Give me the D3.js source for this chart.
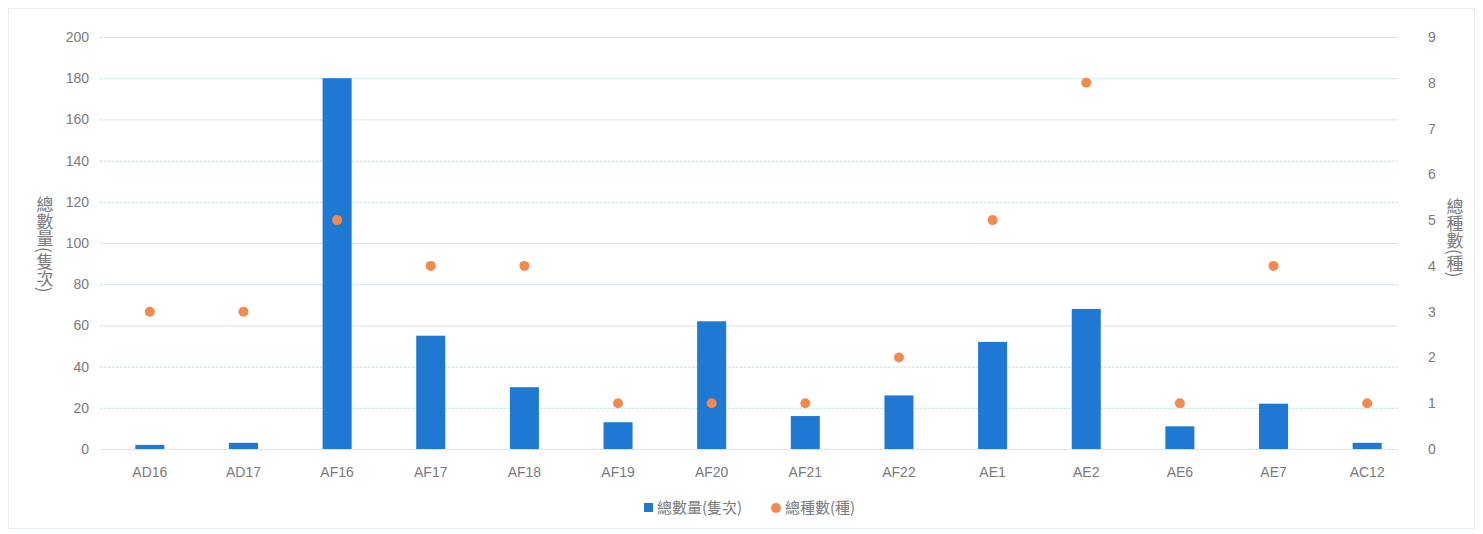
<!DOCTYPE html>
<html>
<head>
<meta charset="utf-8">
<script src="https://cdn.jsdelivr.net/npm/d3@7"></script>
<style>
  body { margin: 0; background: #fff; }
  svg text { font-family: "Liberation Sans", "Open Sans", sans-serif; fill: #7a7a7a; }
  .cjk { font-family: "Noto Sans CJK TC", sans-serif; }
</style>
</head>
<body>
<div id="chart"></div>
<script>
// site codes along the x axis
const sites = ['AD16','AD17','AF16','AF17','AF18','AF19','AF20','AF21','AF22','AE1','AE2','AE6','AE7','AC12'];
// 總數量(隻次) – bars, left axis
const totalCount = [2, 3, 180, 55, 30, 13, 62, 16, 26, 52, 68, 11, 22, 3];
// 總種數(種) – dots, right axis
const totalSpecies = [3, 3, 5, 4, 4, 1, 1, 1, 2, 5, 8, 1, 4, 1];
const leftTicks = d3.range(0, 201, 20);
const rightTicks = d3.range(0, 10, 1);

const W = 1483, H = 534;
const m = { t: 37, r: 69, b: 85, l: 103 };

const svg = d3.select('#chart').append('svg')
  .attr('width', W).attr('height', H);

// faint outer frame of the pasted chart
svg.append('rect')
  .attr('x', 8.5).attr('y', 8.5)
  .attr('width', W - 17).attr('height', H - 14)
  .attr('fill', 'none').attr('stroke', '#e6eeee');

const x = d3.scaleBand()
  .domain(sites)
  .range([m.l, W - m.r])
  .paddingInner(0.69)
  .paddingOuter(0.345);

const yL = d3.scaleLinear().domain([0, 200]).range([H - m.b, m.t]);
const yR = d3.scaleLinear().domain([0, 9]).range([H - m.b, m.t]);

// gridlines
svg.append('g')
  .selectAll('line')
  .data(leftTicks)
  .join('line')
    .attr('x1', m.l - 3).attr('x2', 1398)
    .attr('y1', d => yL(d) + 0.5).attr('y2', d => yL(d) + 0.5)
    .attr('stroke', '#c9e0e4')
    .attr('stroke-dasharray', '3,1');

// left axis
const axL = svg.append('g')
  .attr('transform', `translate(${m.l - 14},0)`)
  .call(d3.axisLeft(yL).tickValues(leftTicks).tickSize(0).tickPadding(0));
axL.select('.domain').remove();
axL.selectAll('text').style('font-size', '14px').attr('fill', '#7a7a7a');

// right axis
const axR = svg.append('g')
  .attr('transform', 'translate(1428,0)')
  .call(d3.axisRight(yR).tickValues(rightTicks).tickSize(0).tickPadding(0));
axR.select('.domain').remove();
axR.selectAll('text').style('font-size', '14px').attr('fill', '#7a7a7a');

// bars
svg.append('g')
  .selectAll('rect')
  .data(sites)
  .join('rect')
    .attr('x', d => x(d))
    .attr('width', x.bandwidth())
    .attr('y', (d, i) => yL(totalCount[i]))
    .attr('height', (d, i) => yL(0) - yL(totalCount[i]))
    .attr('fill', '#1f78d1');

// dots
svg.append('g')
  .selectAll('circle')
  .data(sites)
  .join('circle')
    .attr('cx', d => x(d) + x.bandwidth() / 2)
    .attr('cy', (d, i) => yR(totalSpecies[i]))
    .attr('r', 5)
    .attr('fill', '#f3894d');

// category labels
svg.append('g')
  .selectAll('text')
  .data(sites)
  .join('text')
    .attr('x', d => x(d) + x.bandwidth() / 2)
    .attr('y', H - m.b + 28)
    .attr('text-anchor', 'middle')
    .style('font-size', '14px')
    .text(d => d);

// axis titles, stacked vertically
svg.append('text')
  .attr('class', 'cjk')
  .attr('x', 45).attr('y', 196)
  .style('writing-mode', 'vertical-rl')
  .style('font-size', '17px')
  .text('總數量(隻次)');

svg.append('text')
  .attr('class', 'cjk')
  .attr('x', 1455).attr('y', 198)
  .style('writing-mode', 'vertical-rl')
  .style('font-size', '17px')
  .text('總種數(種)');

// legend
const lg = svg.append('g').attr('transform', 'translate(644,508)');
lg.append('rect').attr('x', 0).attr('y', -5).attr('width', 9).attr('height', 9).attr('fill', '#1f78d1');
lg.append('text').attr('class', 'cjk').attr('x', 13).attr('y', 5).style('font-size', '15px').text('總數量(隻次)');
lg.append('circle').attr('cx', 132).attr('cy', 0).attr('r', 5).attr('fill', '#f3894d');
lg.append('text').attr('class', 'cjk').attr('x', 141).attr('y', 5).style('font-size', '15px').text('總種數(種)');
</script>
</body>
</html>
